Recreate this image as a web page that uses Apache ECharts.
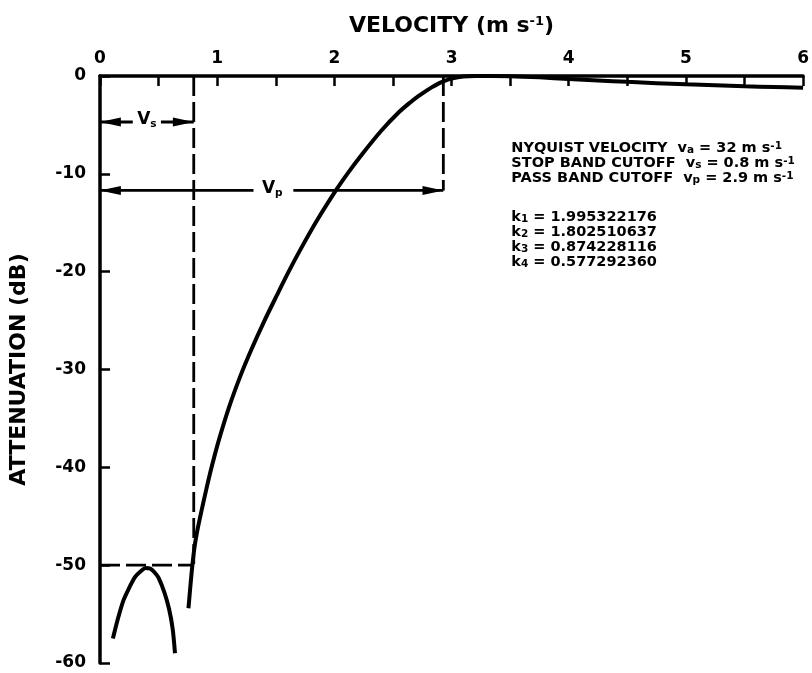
<!DOCTYPE html>
<html><head><meta charset="utf-8">
<script src="https://cdn.jsdelivr.net/npm/echarts@6/dist/echarts.min.js"></script>
<style>html,body{margin:0;padding:0;background:#fff}#c{width:812px;height:673px}</style>
</head><body><div id="c"></div>
<script>
// ---- data ----
const velocityTicks = [0, 1, 2, 3, 4, 5, 6];
const attenuationTicks = [0, -10, -20, -30, -40, -50, -60];
// pass-band response curve (velocity m/s, attenuation dB)
const passV  = [0.755, 0.78, 0.805, 0.83, 0.867, 0.91, 0.95, 1.01, 1.1, 1.2, 1.29, 1.4, 1.51, 1.61, 1.71, 1.85, 2.02, 2.12, 2.24, 2.4, 2.55, 2.65, 2.72, 2.78, 2.83, 2.88, 2.92, 2.96, 3.0, 3.1, 3.2, 3.35, 3.5, 3.75, 4.0, 4.25, 4.5, 4.75, 5.0, 5.25, 5.5, 5.75, 6.0];
const passDb = [-54.4, -51.0, -48.3, -46.5, -44.4, -42.1, -40.1, -37.4, -33.9, -30.6, -28.0, -25.1, -22.4, -20.0, -17.75, -14.8, -11.57, -9.85, -7.95, -5.6, -3.71, -2.68, -2.04, -1.54, -1.16, -0.83, -0.6, -0.41, -0.26, -0.06, 0, 0, -0.02, -0.14, -0.3, -0.45, -0.6, -0.73, -0.85, -0.95, -1.05, -1.12, -1.2];
// stop-band side lobe
const lobeV  = [0.11, 0.15, 0.2, 0.25, 0.3, 0.35, 0.39, 0.43, 0.47, 0.5, 0.55, 0.59, 0.62, 0.64];
const lobeDb = [-57.5, -55.6, -53.6, -52.3, -51.2, -50.6, -50.3, -50.35, -50.8, -51.3, -52.8, -54.5, -56.5, -59.0];
// cutoffs / annotation levels
const stopCutoff = 0.8, passCutoff = 2.93, stopLevel = -50;
const vsLevel = -4.7, vpLevel = -11.7;
const vsGap = [0.28, 0.52], vpGap = [1.31, 1.65];
const vsLabelAt = [0.40, -4.5], vpLabelAt = [1.47, -11.5];
const infoLines = [
  'NYQUIST VELOCITY  v{sub|a} = 32 m s{sup|-1}',
  'STOP BAND CUTOFF  v{sub|s} = 0.8 m s{sup|-1}',
  'PASS BAND CUTOFF  v{sub|p} = 2.9 m s{sup|-1}'
];
const kLines = [
  'k{sub|1} = 1.995322176',
  'k{sub|2} = 1.802510637',
  'k{sub|3} = 0.874228116',
  'k{sub|4} = 0.577292360'
];
const infoAt = [3.51, -6.6], kAt = [3.51, -13.65];

// ---- chart ----
const FONT = '"DejaVu Sans", sans-serif';
const INK = '#000';
const chart = echarts.init(document.getElementById('c'));
const gridW = 713;
const pxPerV = gridW / 6;
const arrowLen = 21, arrowW = 9;
const half = (arrowLen / 2) / pxPerV;

function lineS(data, width, dashed, z) {
  return { type: 'line', data: data, symbol: 'none', showSymbol: false, silent: true, animation: false,
    z: z || 2, lineStyle: { color: INK, width: width, opacity: 1, type: dashed ? [20, 6] : 'solid', cap: 'butt' } };
}
const subSup = {
  sub: { fontSize: 10.5, fontWeight: 'bold', fontFamily: FONT, color: INK, verticalAlign: 'bottom', lineHeight: 10, padding: [7, 0, 0, 0] },
  sup: { fontSize: 10.5, fontWeight: 'bold', fontFamily: FONT, color: INK, verticalAlign: 'top', lineHeight: 10 }
};
function textS(pt, text, size, lh, align, vAlign) {
  return { type: 'scatter', data: [pt], symbolSize: 0, silent: true, animation: false, z: 5,
    itemStyle: { opacity: 1 },
    label: { show: true, position: align === 'center' ? 'inside' : [0, 0], formatter: text,
      align: align, verticalAlign: vAlign, color: INK, opacity: 1, fontSize: size, fontWeight: 'bold', fontFamily: FONT,
      textBorderWidth: 0, lineHeight: lh, rich: subSup } };
}

const option = {
  backgroundColor: '#fff',
  animation: false,
  grid: { left: 97, top: 76, width: gridW, height: 587, containLabel: false },
  xAxis: {
    type: 'value', position: 'top', min: 0, max: 6, interval: 0.5,
    axisLine: { show: true, onZero: false, lineStyle: { color: INK, width: 3.5 } },
    axisTick: { show: true, inside: true, length: 10, lineStyle: { color: INK, width: 2.5 } },
    axisLabel: { margin: 9, color: INK, fontSize: 17, fontWeight: 'bold', fontFamily: FONT,
      formatter: v => velocityTicks.includes(v) ? String(v) : '' },
    splitLine: { show: false },
    name: 'VELOCITY (m s{s|-1})', nameLocation: 'middle', nameGap: 39,
    nameTextStyle: { color: INK, fontSize: 22, fontWeight: 'bold', fontFamily: FONT,
      rich: { s: { fontSize: 13, fontWeight: 'bold', fontFamily: FONT, color: INK, verticalAlign: 'top', lineHeight: 13 } } }
  },
  yAxis: {
    type: 'value', min: -60, max: 0, interval: 10,
    axisLine: { show: true, onZero: false, lineStyle: { color: INK, width: 3.5 } },
    axisTick: { show: true, inside: true, length: 10, lineStyle: { color: INK, width: 2.5 } },
    axisLabel: { margin: 14, color: INK, fontSize: 17, fontWeight: 'bold', fontFamily: FONT,
      formatter: v => attenuationTicks.includes(v) ? String(v) : '' },
    splitLine: { show: false },
    name: 'ATTENUATION (dB)', nameLocation: 'middle', nameGap: 70,
    nameTextStyle: { color: INK, fontSize: 22, fontWeight: 'bold', fontFamily: FONT }
  },
  series: [
    // dashed cutoff guides
    lineS([[stopCutoff, 0], [stopCutoff, stopLevel]], 2.8, true),
    lineS([[0, stopLevel], [stopCutoff, stopLevel]], 2.8, true),
    lineS([[passCutoff, 0], [passCutoff, vpLevel]], 2.8, true),
    // Vs / Vp arrow shafts
    lineS([[0, vsLevel], [vsGap[0], vsLevel]], 2.8, false),
    lineS([[vsGap[1], vsLevel], [stopCutoff, vsLevel]], 2.8, false),
    lineS([[0, vpLevel], [vpGap[0], vpLevel]], 2.8, false),
    lineS([[vpGap[1], vpLevel], [passCutoff, vpLevel]], 2.8, false),
    // arrowheads
    { type: 'scatter', silent: true, animation: false, z: 4, symbol: 'triangle', symbolSize: [arrowW, arrowLen],
      itemStyle: { color: INK, opacity: 1 },
      data: [
        { value: [0 + half, vsLevel], symbolRotate: 90 },
        { value: [stopCutoff - half, vsLevel], symbolRotate: -90 },
        { value: [0 + half, vpLevel], symbolRotate: 90 },
        { value: [passCutoff - half, vpLevel], symbolRotate: -90 }
      ] },
    // response curves
    Object.assign(lineS(passV.map((v, i) => [v, passDb[i]]), 4, false, 3), { smooth: 0.3 }),
    Object.assign(lineS(lobeV.map((v, i) => [v, lobeDb[i]]), 4, false, 3), { smooth: 0.3 }),
    // labels
    textS(vsLabelAt, 'V{sub|s}', 17, 20, 'center', 'middle'),
    textS(vpLabelAt, 'V{sub|p}', 17, 20, 'center', 'middle'),
    textS(infoAt, infoLines.join('\n'), 14.5, 15, 'left', 'top'),
    textS(kAt, kLines.join('\n'), 14.5, 15, 'left', 'top')
  ]
};
chart.setOption(option);
</script>
</body></html>
